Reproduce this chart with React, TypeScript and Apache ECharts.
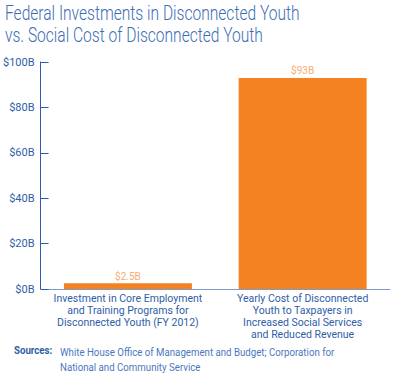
import React, { useEffect, useRef } from "react";
import * as echarts from "echarts";

const titleLines = ["Federal Investments in Disconnected Youth", "vs. Social Cost of Disconnected Youth"];
const categories = [
  "Investment in Core Employment\nand Training Programs for\nDisconnected Youth (FY 2012)",
  "Yearly Cost of Disconnected\nYouth to Taxpayers in\nIncreased Social Services\nand Reduced Revenue",
];
const values = [2.5, 93];
const valueLabels = ["$2.5B", "$93B"];
const yTicks = [0, 20, 40, 60, 80, 100];
const sourcesLabel = "Sources:";
const sourcesText = "White House Office of Management and Budget; Corporation for\nNational and Community Service";

const FONT = "Roboto, 'Liberation Sans', sans-serif";

export default function App() {
  const ref = useRef<HTMLDivElement>(null);
  useEffect(() => {
    const chart = echarts.init(ref.current!, undefined, { renderer: "svg" });
    chart.setOption({
      animation: false,
      backgroundColor: "#ffffff",
      grid: { left: 40, right: 10, top: 62, bottom: 87, containLabel: false },
      xAxis: {
        type: "category",
        data: categories,
        axisLine: { lineStyle: { color: "#7f9cc9", width: 1 } },
        axisTick: { show: false },
        axisLabel: {
          interval: 0,
          fontFamily: FONT,
          fontSize: 10.5,
          lineHeight: 12,
          color: "#2f5ea7",
          margin: 3,
        },
      },
      yAxis: {
        type: "value",
        min: 0,
        max: 100,
        interval: 20,
        splitLine: { show: false },
        axisLine: { show: true, lineStyle: { color: "#2f5ea7", width: 1 } },
        axisTick: { show: true, inside: true, length: 8, lineStyle: { color: "#2f5ea7" } },
        axisLabel: {
          fontFamily: FONT,
          fontSize: 11,
          color: "#2f5ea7",
          margin: 6,
          formatter: (v: number) => (yTicks.includes(v) ? `$${v}B` : ""),
        },
      },
      series: [
        {
          type: "bar",
          data: values,
          barWidth: 128,
          itemStyle: { color: "#f58220" },
          label: {
            show: true,
            position: "top",
            distance: 2,
            fontFamily: FONT,
            fontSize: 10,
            color: "#f7ad70",
            formatter: (p: any) => valueLabels[p.dataIndex],
          },
        },
      ],
      graphic: [
        {
          type: "text",
          x: 5,
          y: 2,
          scaleX: 0.76,
          style: {
            text: titleLines.join("\n"),
            font: `300 20.5px ${FONT}`,
            fill: "#3b6db4",
            lineHeight: 22,
          },
        },
        {
          type: "text",
          x: 14,
          y: 345,
          scaleX: 0.88,
          style: {
            text: sourcesLabel,
            font: `bold 11px ${FONT}`,
            fill: "#2f5ea7",
          },
        },
        {
          type: "text",
          x: 60,
          y: 345,
          scaleX: 0.88,
          style: {
            text: sourcesText,
            font: `11px ${FONT}`,
            fill: "#4a78bd",
            lineHeight: 15,
          },
        },
      ],
    });
    return () => chart.dispose();
  }, []);
  return <div ref={ref} style={{ width: 400, height: 376, position: "absolute", left: 0, top: 0 }} />;
}
